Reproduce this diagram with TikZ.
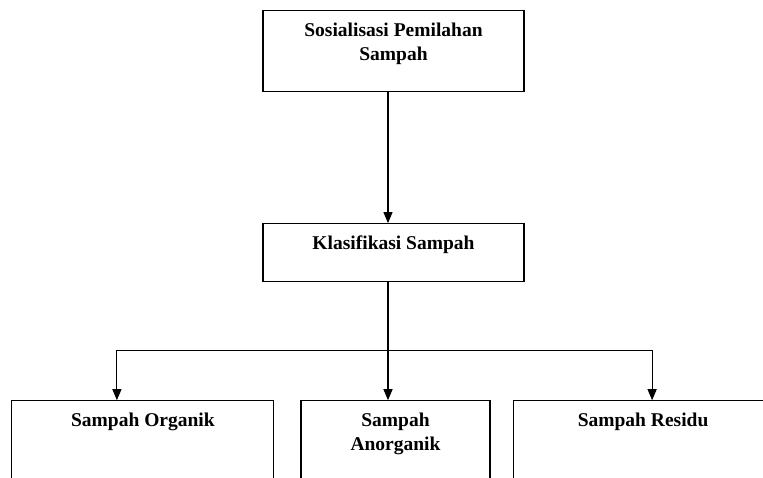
\documentclass[tikz,border=0pt]{standalone}
\usepackage{fontspec}
\setmainfont{Liberation Serif}
\usetikzlibrary{arrows.meta, positioning}

\begin{document}
\begin{tikzpicture}[
    font=\fontsize{19.5}{24}\selectfont\bfseries,
    nd/.style={
      draw=black, line width=1.1pt,
      align=center, anchor=north,
      inner xsep=4pt, inner ysep=12pt,
      text height=14pt
    },
    arr/.style={-{Triangle[length=11pt, width=9pt]}, line width=1.1pt},
    ln/.style={line width=1.1pt}
  ]
  \clip (0,0) rectangle (763pt,-477pt);
  \node[nd, minimum width=261pt, text height=38pt, text depth=19pt] (sos) at (393.5pt,-10pt) {Sosialisasi Pemilahan\\Sampah};
  \node[nd, minimum width=261pt, text depth=20pt, below=131pt of sos] (klas) {Klasifikasi Sampah};
  \node[nd, minimum width=189pt, text height=38pt, text depth=36pt, below=118pt of klas, xshift=2pt] (anorg) {Sampah\\Anorganik};
  \node[nd, minimum width=262pt, text depth=60pt, left=26pt of anorg] (org) {Sampah Organik};
  \node[nd, minimum width=260pt, text depth=60pt, right=22pt of anorg] (res) {Sampah Residu};

  \coordinate[below=68pt of klas.south, xshift=-5.5pt] (split);

  \draw[arr] ([xshift=-5.5pt]sos.south) -- ([xshift=-5.5pt]klas.north);
  \draw[ln] ([xshift=-5.5pt]klas.south) -- (split);
  \draw[arr] (split) -- ([xshift=-7.5pt]anorg.north);
  \draw[arr] (split) -| ([xshift=-26pt]org.north);
  \draw[arr] (split) -| ([xshift=9pt]res.north);
\end{tikzpicture}
\end{document}
